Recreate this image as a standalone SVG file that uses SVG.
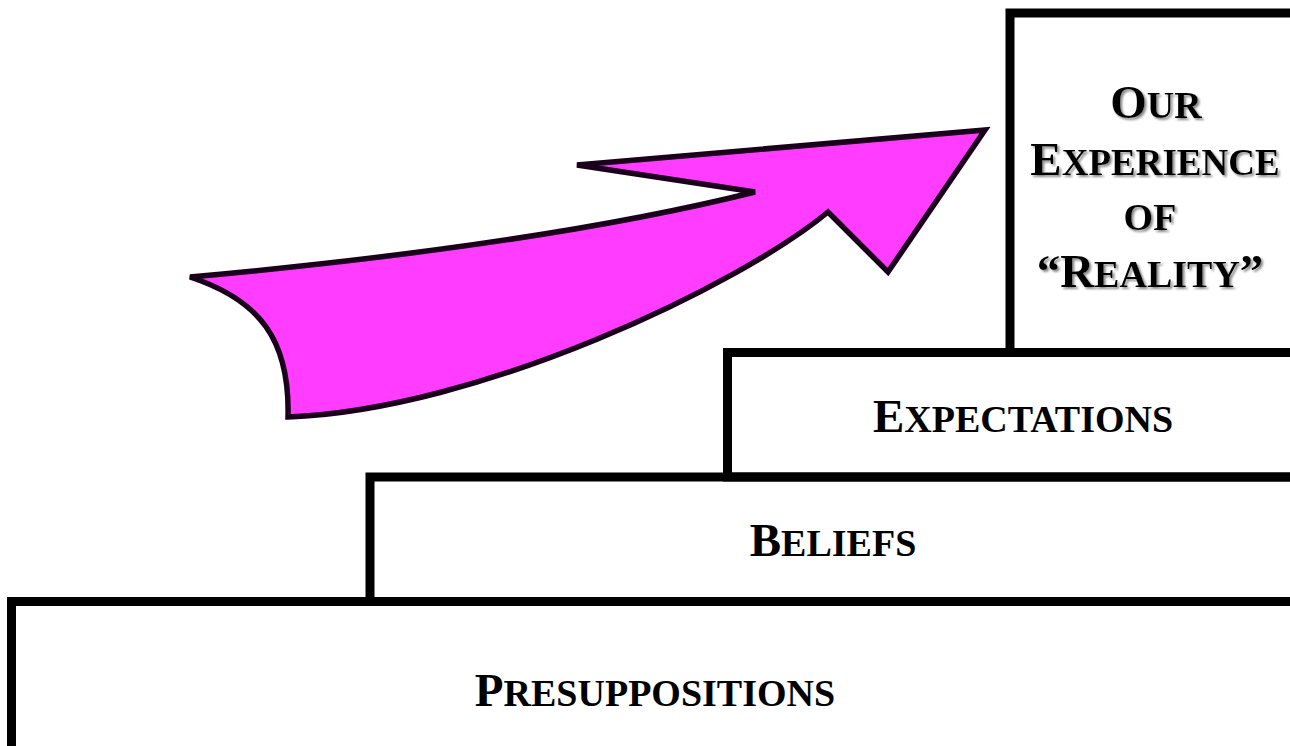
<svg xmlns="http://www.w3.org/2000/svg" width="1290" height="746" viewBox="0 0 1290 746">
<defs>
<style>
.box{fill:none;stroke:#000;stroke-width:9}
.t{font-family:"Liberation Serif","Times New Roman",serif;font-weight:bold;font-size:47px;fill:#000;text-anchor:middle}
.sc{font-size:38px}
.arrow{fill:#ff3cff;stroke:#1a001a;stroke-width:5.5;stroke-linejoin:miter}
</style>
<filter id="sh" x="-10%" y="-20%" width="130%" height="150%">
<feDropShadow dx="2" dy="2" stdDeviation="0.8" flood-color="#8a8a8a" flood-opacity="1"/>
</filter>
</defs>
<rect width="1290" height="746" fill="#fff"/>
<g id="presuppositions">
<rect class="box" x="11.5" y="601.5" width="1400" height="300"/>
<text class="t" x="655" y="706">P<tspan class="sc">RESUPPOSITIONS</tspan></text>
</g>
<g id="beliefs">
<rect class="box" x="370" y="477" width="1000" height="124.5"/>
<text class="t" x="833" y="556">B<tspan class="sc">ELIEFS</tspan></text>
</g>
<g id="expectations">
<rect class="box" x="727.5" y="352.5" width="700" height="124.5"/>
<text class="t" x="1023" y="432">E<tspan class="sc">XPECTATIONS</tspan></text>
</g>
<g id="experience">
<rect class="box" x="1010" y="13" width="400" height="339.5"/>
<g filter="url(#sh)">
<text class="t" x="1156" y="118">O<tspan class="sc">UR</tspan></text>
<text class="t" x="1155" y="175" font-size="46">E<tspan font-size="37">XPERIENCE</tspan></text>
<text class="t" x="1150" y="230"><tspan class="sc">OF</tspan></text>
<text class="t" x="1150" y="287">“R<tspan class="sc">EALITY</tspan>”</text>
</g>
</g>
<g id="connectors">
<path class="arrow" d="M190,277 Q542,245 755,192 L577,165 L985,130 L888,272 L828,212 C740,285 480,410 288,417 C290,340 260,300 190,277 Z"/>
</g>
</svg>
